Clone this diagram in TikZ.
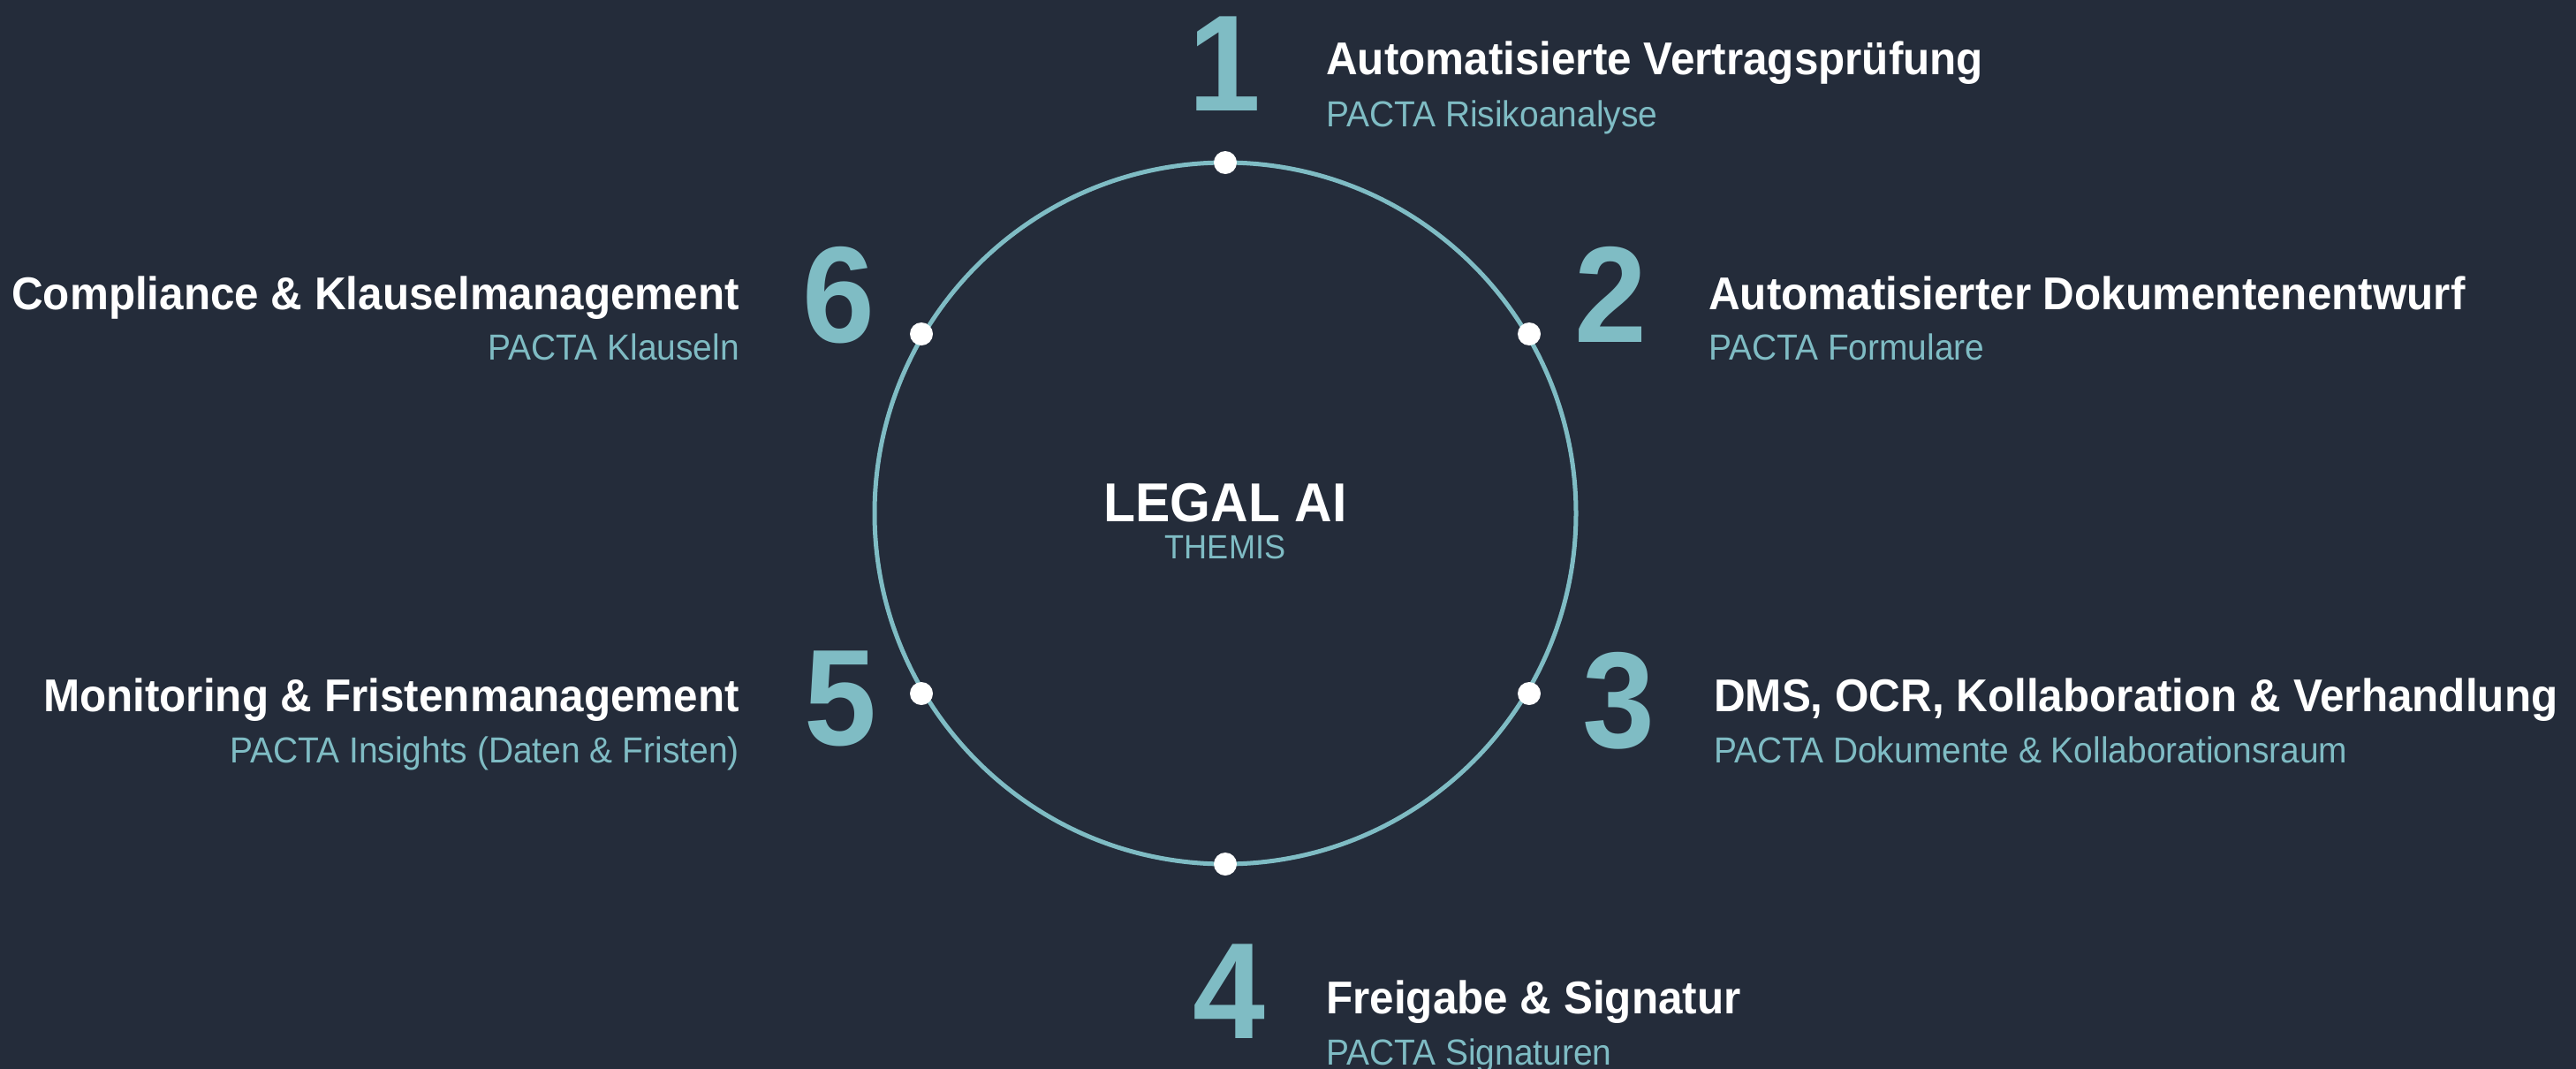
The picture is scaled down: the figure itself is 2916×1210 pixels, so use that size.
\documentclass[tikz,border=0pt]{standalone}
\usepackage{fontspec}
\setmainfont{Liberation Sans}[FakeStretch=0.95]
\definecolor{bg}{HTML}{242C3A}
\definecolor{teal}{HTML}{7FBCC4}
\begin{document}
\begin{tikzpicture}[x=1pt,y=-1pt,
  num/.style={font=\bfseries\fontsize{155}{155}\selectfont,text=teal,inner sep=0pt,anchor=base},
  ttl/.style={font=\bfseries\fontsize{52}{52}\selectfont,text=white,inner sep=0pt},
  sub/.style={font=\fontsize{41}{41}\selectfont,text=teal,inner sep=0pt},
  dot/.style={circle,fill=white,inner sep=0pt,minimum size=26pt}]
\path[fill=bg,use as bounding box] (0,0) rectangle (2916,1210);
\coordinate (c) at (1387,581);
\draw[teal,line width=5pt] (c) circle (397pt);
\node[font=\bfseries\fontsize{62}{62}\selectfont,text=white,inner sep=0pt,anchor=base] (legal) at (1387,590) {LEGAL AI};
\node[font=\fontsize{38}{38}\selectfont,text=teal,inner sep=0pt,anchor=base] (themis) at (1387,632) {THEMIS};
% dots
\node[dot] (d1) at (1387,184) {};
\node[dot] (d2) at (1731,378) {};
\node[dot] (d3) at (1731,785) {};
\node[dot] (d4) at (1387,978) {};
\node[dot] (d5) at (1043,785) {};
\node[dot] (d6) at (1043,378) {};
% numbers
\node[num] (n1) at (1386,125) {1};
\node[num] (n2) at (1823,387) {2};
\node[num] (n3) at (1832,846) {3};
\node[num] (n4) at (1391,1175) {4};
\node[num] (n5) at (951,843) {5};
\node[num] (n6) at (949,387) {6};
% titles
\node[ttl,anchor=base west] (t1) at (1501,84) {Automatisierte Vertragsprüfung};
\node[sub,anchor=base west] (s1) at (1501,143) {PACTA Risikoanalyse};
\node[ttl,anchor=base west] (t2) at (1934,350) {Automatisierter Dokumentenentwurf};
\node[sub,anchor=base west] (s2) at (1934,407) {PACTA Formulare};
\node[ttl,anchor=base west] (t3) at (1940,805) {DMS, OCR, Kollaboration \& Verhandlung};
\node[sub,anchor=base west] (s3) at (1940,863) {PACTA Dokumente \& Kollaborationsraum};
\node[ttl,anchor=base west] (t4) at (1501,1147) {Freigabe \& Signatur};
\node[sub,anchor=base west] (s4) at (1501,1205) {PACTA Signaturen};
\node[ttl,anchor=base east] (t5) at (837,805) {Monitoring \& Fristenmanagement};
\node[sub,anchor=base east] (s5) at (837,863) {PACTA Insights (Daten \& Fristen)};
\node[ttl,anchor=base east] (t6) at (837,350) {Compliance \& Klauselmanagement};
\node[sub,anchor=base east] (s6) at (837,407) {PACTA Klauseln};
\end{tikzpicture}
\end{document}
